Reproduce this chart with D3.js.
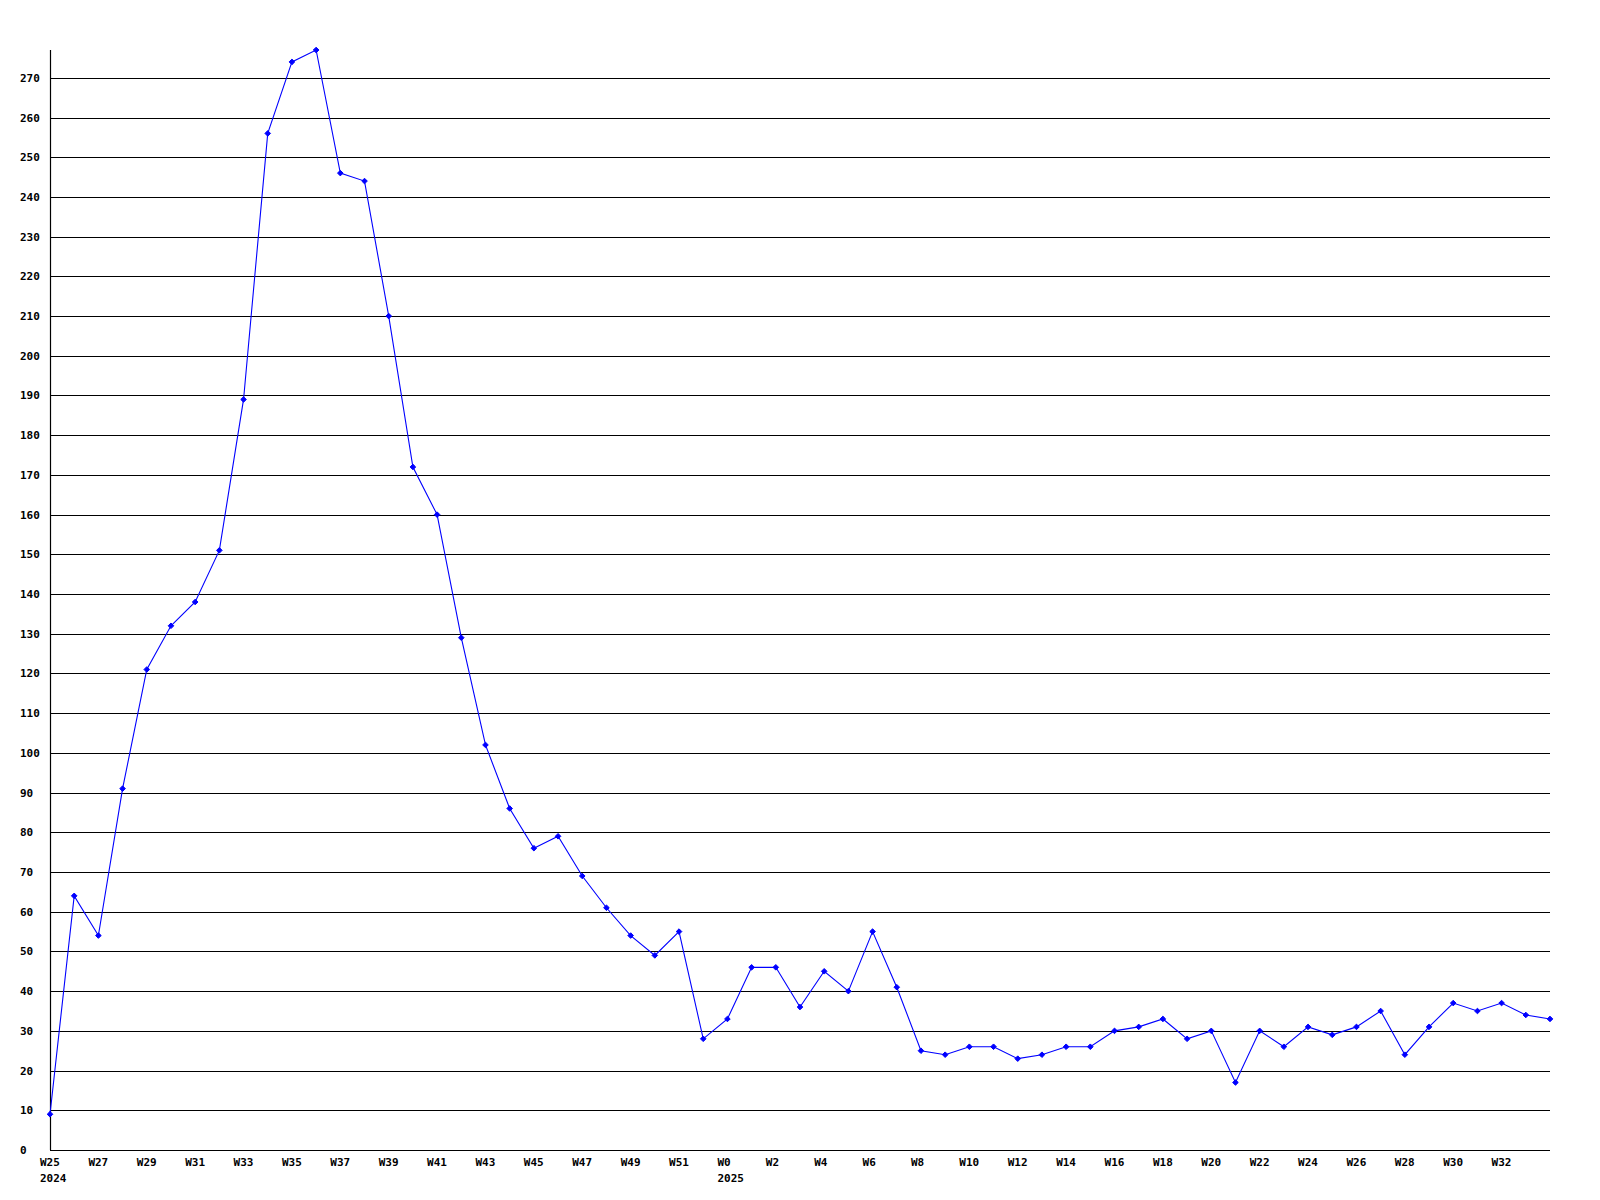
<!DOCTYPE html>
<html>
<head>
<meta charset="utf-8">
<script src="https://cdn.jsdelivr.net/npm/d3@7/dist/d3.min.js"></script>
<style>
  html, body { margin: 0; padding: 0; background: #fff; }
  svg { display: block; }
  text { font-family: "DejaVu Sans Mono", "Liberation Mono", monospace; font-weight: bold; font-size: 11px; fill: #000; }
</style>
</head>
<body>
<script>
// Week labels (2024 W25..W52, then 2025 W0..W34)
const weeks = [
  "W25","W26","W27","W28","W29","W30","W31","W32","W33","W34","W35","W36","W37","W38",
  "W39","W40","W41","W42","W43","W44","W45","W46","W47","W48","W49","W50","W51","W52",
  "W0","W1","W2","W3","W4","W5","W6","W7","W8","W9","W10","W11","W12","W13","W14","W15",
  "W16","W17","W18","W19","W20","W21","W22","W23","W24","W25","W26","W27","W28","W29",
  "W30","W31","W32","W33","W34"
];
const values = [
  9,64,54,91,121,132,138,151,189,256,274,277,246,244,
  210,172,160,129,102,86,76,79,69,61,54,49,55,28,
  33,46,46,36,45,40,55,41,25,24,26,26,23,24,26,26,
  30,31,33,28,30,17,30,26,31,29,31,35,24,31,
  37,35,37,34,33
];
// year labels: index of the week where the year starts
const yearIndex = [0, 28];
const yearLabels = ["2024", "2025"];
// y tick values
const yTicks = d3.range(0, 271, 10);
// which week indices get a label (every other, last one omitted)
const labelIndex = d3.range(0, 61, 2);

const W = 1600, H = 1200;
const svg = d3.select("body").append("svg").attr("width", W).attr("height", H);

const x = d3.scaleLinear().domain([0, values.length - 1]).range([50, 1550]);
const y = d3.scaleLinear().domain([0, d3.max(values)]).range([1150, 50]);

// gridlines
svg.append("g").selectAll("line").data(yTicks).join("line")
  .attr("x1", x(0)).attr("x2", x(values.length - 1))
  .attr("y1", d => Math.round(y(d)) + 0.5).attr("y2", d => Math.round(y(d)) + 0.5)
  .attr("stroke", "#000").attr("stroke-width", 1.2);

// left axis
svg.append("line")
  .attr("x1", x(0) + 0.5).attr("x2", x(0) + 0.5)
  .attr("y1", y(d3.max(values))).attr("y2", y(0))
  .attr("stroke", "#000").attr("stroke-width", 1.2);

// y labels
svg.append("g").selectAll("text").data(yTicks).join("text")
  .attr("x", 20).attr("y", d => y(d) + 4)
  .text(d => d);

// x labels
svg.append("g").selectAll("text").data(labelIndex).join("text")
  .attr("x", i => x(i) - 10).attr("y", 1166)
  .text(i => weeks[i]);

svg.append("g").selectAll("text").data(yearIndex).join("text")
  .attr("x", i => x(i) - 10).attr("y", 1182)
  .text((i, k) => yearLabels[k]);

// line
const line = d3.line().x((d, i) => x(i)).y(d => y(d));
svg.append("path").datum(values)
  .attr("d", line)
  .attr("fill", "none").attr("stroke", "#0000ff").attr("stroke-width", 1.1);

// markers
const diamond = d3.symbol().type(d3.symbolDiamond2).size(20);
svg.append("g").selectAll("path").data(values).join("path")
  .attr("transform", (d, i) => `translate(${x(i)},${y(d)})`)
  .attr("d", diamond)
  .attr("fill", "#0000ff").attr("stroke", "#0000ff").attr("stroke-width", 1);
</script>
</body>
</html>
